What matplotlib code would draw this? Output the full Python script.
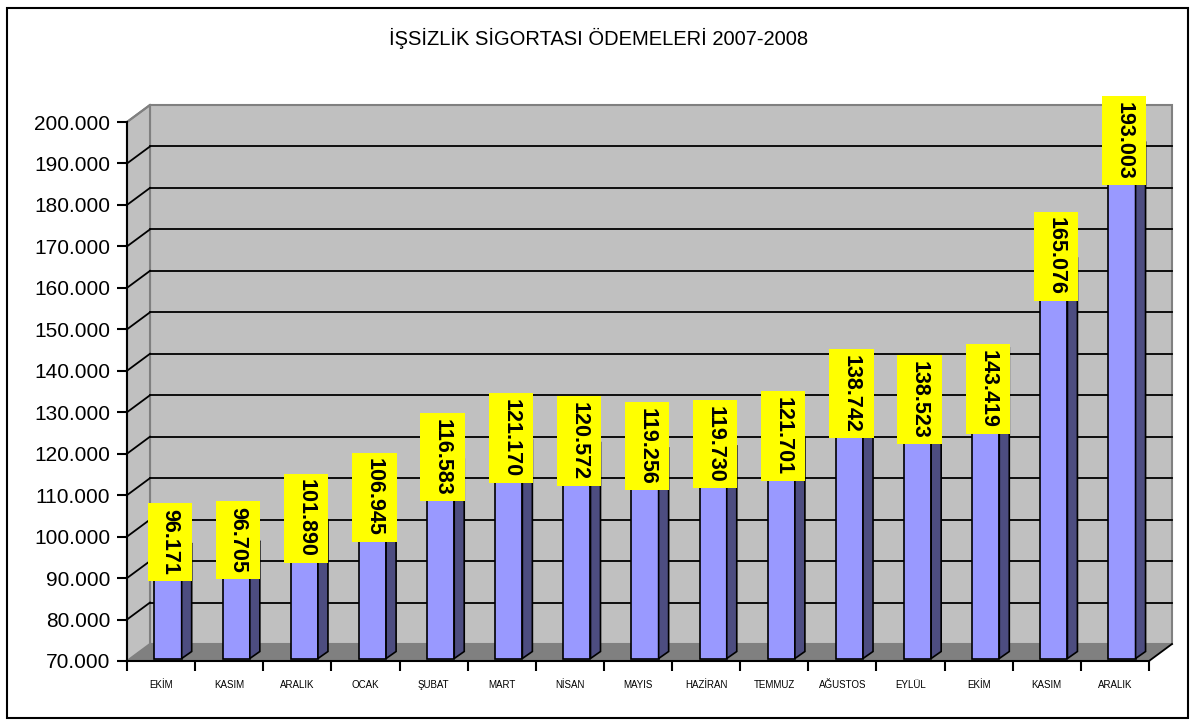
import numpy as np
import matplotlib.pyplot as plt
from matplotlib.patches import Polygon, Rectangle

# data
months = ['EKİM', 'KASIM', 'ARALIK', 'OCAK', 'ŞUBAT', 'MART', 'NİSAN', 'MAYIS',
          'HAZİRAN', 'TEMMUZ', 'AĞUSTOS', 'EYLÜL', 'EKİM', 'KASIM', 'ARALIK']
payments = [96171, 96705, 101890, 106945, 116583, 121170, 120572, 119256,
            119730, 121701, 138742, 138523, 143419, 165076, 193003]
title = 'İŞSİZLİK SİGORTASI ÖDEMELERİ 2007-2008'
y_ticks = list(range(70000, 200001, 10000))

plt.rcParams['font.family'] = ['Liberation Sans', 'DejaVu Sans']

def dotted(v):
    return f'{v:,}'.replace(',', '.')

W, H = 1198, 726
fig = plt.figure(figsize=(W / 100, H / 100), dpi=100)
ax = fig.add_axes([127 / W, 65 / H, 1022 / W, 539 / H])

n = len(payments)
x = np.arange(n)
xmin, xmax = -0.5, n - 0.5
ymin, ymax = y_ticks[0], y_ticks[-1]
ax.set_xlim(xmin, xmax)
ax.set_ylim(ymin, ymax)
ax.set_facecolor('none')

# pixel -> data unit helpers (for the fake 3D depth)
ppx = 1022 / (xmax - xmin)
ppy = 539 / (ymax - ymin)
def px(dx, dy):
    return dx / ppx, dy / ppy

DX, DY = px(23, 17)      # wall depth
BX, BY = px(7, 2.5)      # bar front face offset
SX, SY = px(10, 7)       # bar depth

# back wall
ax.add_patch(Polygon([(xmin + DX, ymin + DY), (xmax + DX, ymin + DY),
                      (xmax + DX, ymax + DY), (xmin + DX, ymax + DY)],
                     closed=True, fc='#C0C0C0', ec='#808080', lw=1.5,
                     clip_on=False, zorder=0))
# side wall
ax.add_patch(Polygon([(xmin, ymin), (xmin + DX, ymin + DY),
                      (xmin + DX, ymax + DY), (xmin, ymax)],
                     closed=True, fc='#C0C0C0', ec='#808080', lw=1.5,
                     clip_on=False, zorder=0))
# gridlines
for v in y_ticks[1:-1]:
    ax.plot([xmin + DX, xmax + DX], [v + DY, v + DY], color='black', lw=1.3,
            clip_on=False, zorder=1)
    ax.plot([xmin, xmin + DX], [v, v + DY], color='black', lw=1.3,
            clip_on=False, zorder=1)
ax.plot([xmin, xmin + DX], [ymax, ymax + DY], color='#808080', lw=1.5,
        clip_on=False, zorder=1)
# floor
ax.add_patch(Polygon([(xmin, ymin), (xmax, ymin),
                      (xmax + DX, ymin + DY), (xmin + DX, ymin + DY)],
                     closed=True, fc='#808080', ec='none',
                     clip_on=False, zorder=1))
ax.plot([xmax, xmax + DX], [ymin, ymin + DY], color='black', lw=1.3,
        clip_on=False, zorder=1)

# bars
bw = 0.40
vals = np.array(payments)
ax.bar(x + BX, vals - ymin, bottom=ymin + BY, width=bw, color='#9999FF',
       edgecolor='black', lw=1.2, zorder=3)

# label nudges in px (a few labels were moved down in the original)
label_dy = [8, 8, 8, 8, 8, 8, 8, 8, 8, 8, -20, -25, -35, 8, 8]
for i, v in enumerate(payments):
    xl = i + BX - bw / 2
    xr = i + BX + bw / 2
    ax.add_patch(Polygon([(xr, ymin + BY), (xr + SX, ymin + BY + SY),
                          (xr + SX, v + BY + SY), (xr, v + BY)],
                         closed=True, fc='#4D4D80', ec='black', lw=1.2,
                         zorder=3, clip_on=False))
    ax.add_patch(Polygon([(xl, v + BY), (xr, v + BY),
                          (xr + SX, v + BY + SY), (xl + SX, v + BY + SY)],
                         closed=True, fc='#B3B3FF', ec='black', lw=1.2,
                         zorder=3, clip_on=False))
    lx, ly = px(2, label_dy[i])
    ax.text(i + BX + lx, v + BY + ly, dotted(v), rotation=-90,
            ha='center', va='center', fontsize=15.5, fontweight='bold',
            bbox=dict(boxstyle='square,pad=0.27', fc='#FFFF00', ec='none',
                      mutation_aspect=2.0),
            zorder=5, clip_on=False)

# axes
for s in ['top', 'right']:
    ax.spines[s].set_visible(False)
ax.spines['left'].set_linewidth(1.5)
ax.spines['bottom'].set_linewidth(1.5)
ax.spines['left'].set_zorder(2)
ax.spines['bottom'].set_zorder(2)
ax.set_yticks(y_ticks)
ax.set_yticklabels([dotted(v) for v in y_ticks], fontsize=15)
ax.tick_params(axis='y', length=7, width=1.5, pad=5)
ax.set_xticks(np.arange(xmin, xmax + 0.01, 1))
ax.set_xticklabels([])
ax.tick_params(axis='x', which='major', length=7, width=1.5)
ax.set_xticks(x, minor=True)
ax.set_xticklabels(months, minor=True, fontsize=7)
ax.tick_params(axis='x', which='minor', length=0, pad=14)

fig.text(0.5, 1 - 38 / H, title, ha='center', va='center', fontsize=14.5)

fig.add_artist(Rectangle((7 / W, 8 / H), 1181 / W, 710 / H,
                         transform=fig.transFigure, fill=False,
                         ec='black', lw=1.5))

fig.savefig('out.png', dpi=100)
